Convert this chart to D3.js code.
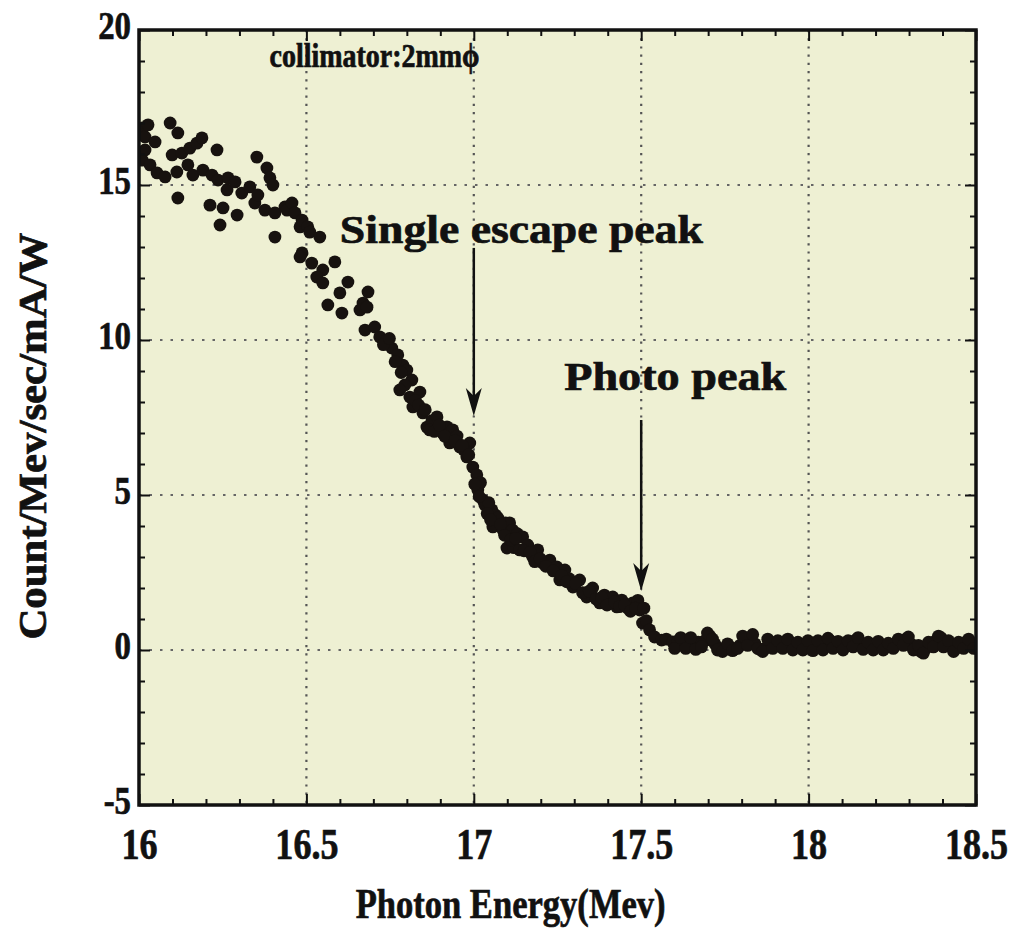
<!DOCTYPE html>
<html>
<head>
<meta charset="utf-8">
<script src="https://cdn.jsdelivr.net/npm/d3@7"></script>
<style>
  body { margin: 0; background: #fff; }
  svg text { font-family: "Liberation Serif", "DejaVu Serif", serif; font-weight: bold; fill: #111; stroke: #111; stroke-width: 0.7px; }
</style>
</head>
<body>
<div id="chart"></div>
<script>
// photon energy (MeV) and counts
const energy = [
  16.012,16.018,16.027,16.018,16.010,16.033,16.048,16.054,16.078,16.093,16.099,16.113,16.116,16.116,16.128,16.146,16.152,16.161,16.173,16.188,
  16.191,16.212,16.218,16.233,16.236,16.242,16.251,16.263,16.266,16.287,16.293,16.307,16.331,16.346,16.352,16.355,16.376,16.382,16.391,16.400,
  16.406,16.406,16.436,16.442,16.457,16.466,16.481,16.487,16.487,16.504,16.510,
  16.540,16.481,16.516,16.549,16.585,16.531,16.549,16.624,16.600,16.684,16.669,16.564,16.606,16.660,16.681,16.675,16.704,16.719,16.740,16.755,
  16.773,16.788,16.800,16.815,16.794,16.779,16.809,16.839,16.818,16.848,16.860,16.875,16.890,16.907,16.920,16.937,16.928,16.958,16.950,16.979,
  16.988,16.997,16.970,
  16.730,16.748,16.765,16.783,16.826,16.835,16.855,16.868,16.882,16.897,16.913,16.944,16.965,16.985,
  17.009,17.012,17.020,17.027,17.033,17.054,17.045,17.057,17.065,17.072,17.087,17.095,17.107,17.116,17.130,17.146,17.099,17.120,17.137,17.161,
  17.176,17.191,17.206,17.227,17.248,17.257,17.272,17.285,17.296,17.316,17.337,17.355,17.376,17.390,17.405,17.415,17.427,17.442,17.460,17.475,
  17.490,17.496,17.504,
  17.003,17.016,17.040,17.050,17.080,17.092,17.110,17.125,17.150,17.168,17.182,17.198,17.215,17.237,17.263,17.278,17.304,17.325,17.345,17.365,
  17.382,17.398,17.420,17.435,17.450,17.468,17.483,17.508,
  17.515,17.525,17.540,17.561,17.575,17.594,17.610,17.625,17.640,17.655,17.670,17.690,17.705,17.720,17.735,17.750,17.765,17.780,17.795,17.810,
  17.825,17.840,17.855,17.870,17.885,17.900,17.915,17.930,17.945,17.960,17.975,17.990,18.005,18.020,18.035,18.050,18.065,18.080,18.095,18.110,
  18.125,18.140,18.155,18.170,18.185,18.200,18.215,18.230,18.245,18.260,18.275,18.290,18.305,18.320,18.335,18.350,18.365,18.380,18.395,18.410,
  18.425,18.440,18.455,18.470,18.485,18.500,
  17.600,17.618,17.633,17.648,17.663,17.680,17.698,17.713,17.728,17.743,17.758,17.773,17.788,17.803,17.818,17.833,17.848,17.863,17.878,17.893,
  17.908,17.923,17.938,17.953,17.968,17.983,17.998,18.013,18.028,18.043,18.058,18.073,18.088,18.103,18.118,18.133,18.148,18.163,18.178,18.193,
  18.208,18.223,18.238,18.253,18.268,18.283,18.298,18.313,18.328,18.343,18.358,18.373,18.388,18.403,18.418,18.433,18.448,18.463,18.478,18.493
];
const counts = [
  16.84,16.55,16.94,16.13,15.80,15.65,16.39,15.39,15.26,17.00,15.97,15.42,16.68,14.58,16.03,15.65,16.19,15.32,16.35,16.52,
  15.48,14.35,15.32,16.13,15.16,13.71,14.26,14.84,15.23,15.10,14.03,14.74,14.94,14.42,15.90,14.68,14.19,15.55,15.23,15.00,
  14.10,13.32,14.29,14.19,14.42,14.10,13.65,13.87,12.81,13.65,13.48,
  13.32,12.68,12.48,12.26,12.52,12.03,11.84,11.87,11.52,11.55,11.19,11.13,10.87,10.97,11.06,10.32,10.42,10.10,10.00,9.74,
  9.52,9.19,9.03,8.71,8.55,8.39,8.16,8.32,7.84,7.65,7.19,7.40,7.52,7.00,7.20,7.10,6.68,6.55,6.90,6.23,
  6.68,5.90,6.45,
  9.85,10.05,9.30,8.95,8.05,7.90,7.75,7.10,7.05,7.25,6.90,6.75,6.60,6.30,
  5.65,5.16,5.40,4.84,4.68,4.52,4.75,3.97,4.35,4.26,3.87,4.10,4.10,3.87,3.75,3.65,3.29,3.30,3.23,3.39,
  3.00,3.23,2.81,2.90,2.68,2.26,2.58,2.30,2.03,2.26,1.71,2.00,1.52,1.77,1.60,1.71,1.39,1.61,1.35,1.52,
  1.60,1.29,0.87,
  5.35,4.95,4.40,4.20,4.05,3.70,3.55,3.60,3.20,3.15,2.85,2.95,2.70,2.55,2.40,2.20,2.15,1.85,1.90,1.65,
  1.70,1.45,1.55,1.40,1.45,1.25,1.35,1.35,
  0.95,0.65,0.42,0.32,0.35,0.26,0.30,0.22,0.28,0.20,0.25,0.30,0.45,0.20,0.05,0.02,0.10,0.03,0.15,0.30,
  0.40,0.20,0.02,0.05,0.25,0.20,0.15,0.28,0.18,0.10,0.12,0.20,0.05,0.12,0.20,0.15,0.30,0.18,0.10,0.14,
  0.22,0.32,0.20,0.12,0.10,0.18,0.15,0.08,0.12,0.20,0.28,0.35,0.20,0.05,-0.05,0.05,0.15,0.30,0.40,0.25,
  0.10,0.05,0.15,0.25,0.20,0.15,
  0.05,0.40,0.05,0.40,0.02,0.10,0.55,0.35,0.00,-0.05,0.20,-0.02,0.05,0.45,0.15,0.50,0.05,-0.05,0.35,0.05,
  0.30,0.05,0.35,0.00,0.25,0.00,0.30,-0.02,0.30,0.00,0.38,0.05,0.28,0.00,0.30,0.10,0.40,0.02,0.25,0.00,
  0.28,0.00,0.22,0.05,0.35,0.15,0.42,0.00,0.15,-0.10,0.25,0.10,0.45,0.10,0.30,-0.05,0.25,0.05,0.35,0.05
];

const xTicks = [16, 16.5, 17, 17.5, 18, 18.5];
const xTickLabels = ["16", "16.5", "17", "17.5", "18", "18.5"];
const xMinor = [16.1,16.2,16.3,16.4,16.6,16.7,16.8,16.9,17.1,17.2,17.3,17.4,17.6,17.7,17.8,17.9,18.1,18.2,18.3,18.4];
const yTicks = [-5, 0, 5, 10, 15, 20];
const yTickLabels = ["-5", "0", "5", "10", "15", "20"];
const yMinor = [-4,-3,-2,-1,1,2,3,4,6,7,8,9,11,12,13,14,16,17,18,19];

// annotations: label, label baseline position, arrow [x, from, to]
const notes = [
  { text: "Single escape peak", x: 16.6, y: 13.12, width: 363, size: 40, arrow: [17.0, 12.97, 7.55] },
  { text: "Photo peak", x: 17.27, y: 8.38, width: 222, size: 40, arrow: [17.5, 7.42, 1.9] }
];
const caption = "collimator:2mm\u03d5";

const W = 1021, H = 943;
const margin = { top: 30, right: 45, bottom: 138, left: 139 };
const iw = W - margin.left - margin.right;
const ih = H - margin.top - margin.bottom;

const svg = d3.select('#chart').append('svg')
  .attr('width', W).attr('height', H);

const x = d3.scaleLinear([16, 18.5], [0, iw]);
const y = d3.scaleLinear([-5, 20], [ih, 0]);

const g = svg.append('g').attr('transform', `translate(${margin.left},${margin.top})`);

// squeeze glyphs like the condensed face in the original
function condense(sel, f) {
  sel.each(function () {
    let w = this.getComputedTextLength();
    d3.select(this).attr('textLength', w * f).attr('lengthAdjust', 'spacingAndGlyphs');
  });
}

g.append('rect')
  .attr('width', iw).attr('height', ih)
  .attr('fill', '#eef0d3');

// dotted grid
g.append('g')
  .selectAll('line')
  .data(xTicks.slice(1, -1))
  .join('line')
  .attr('x1', d => x(d)).attr('x2', d => x(d))
  .attr('y1', 0).attr('y2', ih)
  .attr('stroke', '#555').attr('stroke-width', 2.2)
  .attr('stroke-dasharray', '2.2,6');

g.append('g')
  .selectAll('line')
  .data(yTicks.slice(1, -1))
  .join('line')
  .attr('y1', d => y(d)).attr('y2', d => y(d))
  .attr('x1', 0).attr('x2', iw)
  .attr('stroke', '#666').attr('stroke-width', 2)
  .attr('stroke-dasharray', '2.5,8');

// data points
g.append('clipPath').attr('id', 'clip')
  .append('rect').attr('width', iw).attr('height', ih);

g.append('g')
  .attr('clip-path', 'url(#clip)')
  .selectAll('circle')
  .data(energy.map((e, i) => [e, counts[i]]))
  .join('circle')
  .attr('cx', d => x(d[0]))
  .attr('cy', d => y(d[1]))
  .attr('r', 6.4)
  .attr('fill', '#17120f');

// ticks, pointing inward on all four sides
const bottom = g.append('g').attr('transform', `translate(0,${ih})`)
  .call(d3.axisBottom(x).tickValues(xTicks).tickSize(-11).tickPadding(23)
    .tickFormat((d, i) => xTickLabels[i]));
g.append('g').attr('transform', `translate(0,${ih})`)
  .call(d3.axisBottom(x).tickValues(xMinor).tickSize(-6).tickFormat(''));
g.append('g')
  .call(d3.axisTop(x).tickValues(xTicks).tickSize(-11).tickFormat(''));
g.append('g')
  .call(d3.axisTop(x).tickValues(xMinor).tickSize(-6).tickFormat(''));

const left = g.append('g')
  .call(d3.axisLeft(y).tickValues(yTicks).tickSize(-11).tickPadding(8)
    .tickFormat((d, i) => yTickLabels[i]));
g.append('g')
  .call(d3.axisLeft(y).tickValues(yMinor).tickSize(-6).tickFormat(''));
g.append('g').attr('transform', `translate(${iw},0)`)
  .call(d3.axisRight(y).tickValues(yTicks).tickSize(-11).tickFormat(''));
g.append('g').attr('transform', `translate(${iw},0)`)
  .call(d3.axisRight(y).tickValues(yMinor).tickSize(-6).tickFormat(''));

g.selectAll('.domain').remove();
g.selectAll('.tick line').attr('stroke', '#111').attr('stroke-width', 2);

bottom.selectAll('text')
  .attr('font-size', 44).attr('font-family', null).attr('fill', null)
  .call(condense, 0.82);
left.selectAll('text')
  .attr('font-size', 40).attr('font-family', null).attr('fill', null)
  .attr('dy', '0.22em')
  .call(condense, 0.82);

// frame
g.append('rect')
  .attr('width', iw).attr('height', ih)
  .attr('fill', 'none').attr('stroke', '#111').attr('stroke-width', 3.5);

// annotations
g.append('text')
  .attr('x', x(16.39)).attr('y', y(18.8))
  .attr('font-size', 33)
  .attr('textLength', 210).attr('lengthAdjust', 'spacingAndGlyphs')
  .text(caption);

notes.forEach(n => {
  g.append('text')
    .attr('x', x(n.x)).attr('y', y(n.y))
    .attr('font-size', n.size)
    .attr('textLength', n.width).attr('lengthAdjust', 'spacingAndGlyphs')
    .text(n.text);

  let [ax, y0, y1] = n.arrow;
  let px = x(ax), tip = y(y1);
  g.append('line')
    .attr('x1', px).attr('x2', px)
    .attr('y1', y(y0)).attr('y2', tip - 10)
    .attr('stroke', '#111').attr('stroke-width', 2.5);
  g.append('path')
    .attr('d', `M${px},${tip} L${px - 8},${tip - 28} L${px},${tip - 20} L${px + 8},${tip - 28} Z`)
    .attr('fill', '#111');
});

// axis titles
svg.append('text')
  .attr('x', margin.left + x(17.11)).attr('y', 918)
  .attr('text-anchor', 'middle')
  .attr('font-size', 42)
  .attr('textLength', 310).attr('lengthAdjust', 'spacingAndGlyphs')
  .text('Photon Energy(Mev)');

svg.append('text')
  .attr('transform', `translate(46,${margin.top + y(6.9)}) rotate(-90)`)
  .attr('text-anchor', 'middle')
  .attr('font-size', 40)
  .attr('textLength', 407).attr('lengthAdjust', 'spacingAndGlyphs')
  .text('Count/Mev/sec/mA/W');
</script>
</body>
</html>
